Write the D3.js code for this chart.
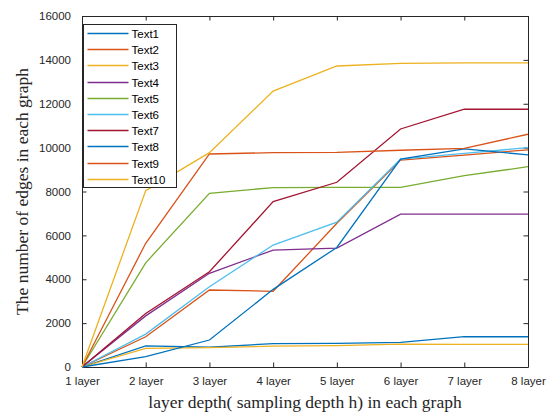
<!DOCTYPE html>
<html>
<head>
<meta charset="utf-8">
<script src="https://cdn.jsdelivr.net/npm/d3@7"></script>
<style>
  body { margin: 0; background: #fff; }
  svg { display: block; }
  .tick text { font-family: "Liberation Sans", Arial, sans-serif; font-size: 11.5px; fill: #262626; }
</style>
</head>
<body>
<div id="chart"></div>
<script>

// chart data

var layers = ["1 layer", "2 layer", "3 layer", "4 layer", "5 layer", "6 layer", "7 layer", "8 layer"];
var seriesNames = ["Text1", "Text2", "Text3", "Text4", "Text5", "Text6", "Text7", "Text8", "Text9", "Text10"];
var yTicks = [0, 2000, 4000, 6000, 8000, 10000, 12000, 14000, 16000];

var text1 = [0, 960, 900, 1070, 1080, 1120, 1380, 1380];
var text2 = [0, 1380, 3510, 3450, 6550, 9430, 9660, 9900];
var text3 = [0, 850, 880, 950, 970, 1040, 1030, 1030];
var text4 = [0, 2330, 4270, 5330, 5420, 6970, 6970, 6970];
var text5 = [0, 4750, 7920, 8180, 8190, 8190, 8720, 9130];
var text6 = [0, 1500, 3660, 5560, 6600, 9480, 9740, 10000];
var text7 = [0, 2440, 4340, 7540, 8420, 10850, 11750, 11750];
var text8 = [0, 470, 1230, 3540, 5450, 9480, 9940, 9670];
var text9 = [0, 5640, 9710, 9770, 9780, 9880, 9970, 10610];
var text10 = [0, 8040, 9770, 12580, 13720, 13840, 13860, 13860];

var seriesValues = [text1, text2, text3, text4, text5, text6, text7, text8, text9, text10];

// MATLAB default colour order, cycling after seven lines
var colors = ["#0072BD", "#D95319", "#EDB120", "#7E2F8E", "#77AC30", "#4DBEEE", "#A2142F"];

function seriesColor(i) {
  return colors[i % colors.length];
}

// layout

var svgWidth = 548;
var svgHeight = 412;
var margin = { top: 16, right: 20, bottom: 45, left: 82 };
var width = svgWidth - margin.left - margin.right;
var height = svgHeight - margin.top - margin.bottom;

var svg = d3.select("#chart")
  .append("svg")
  .attr("width", svgWidth)
  .attr("height", svgHeight);

var chartGroup = svg.append("g")
  .attr("transform", `translate(${margin.left}, ${margin.top})`);

// scales

var xScale = d3.scalePoint()
  .domain(layers)
  .range([0, width]);

var yScale = d3.scaleLinear()
  .domain([0, 16000])
  .range([height, 0]);

// axes, MATLAB style: ticks point inward on all four sides

var tickLen = 4.5;

chartGroup.append("g")
  .attr("transform", `translate(0, ${height})`)
  .call(d3.axisBottom(xScale).tickSizeInner(-tickLen).tickSizeOuter(0).tickPadding(10));

chartGroup.append("g")
  .call(d3.axisLeft(yScale).tickValues(yTicks).tickFormat(d3.format("d"))
    .tickSizeInner(-tickLen).tickSizeOuter(0).tickPadding(11));

chartGroup.append("g")
  .call(d3.axisTop(xScale).tickSizeInner(-tickLen).tickSizeOuter(0).tickFormat(""));

chartGroup.append("g")
  .attr("transform", `translate(${width}, 0)`)
  .call(d3.axisRight(yScale).tickValues(yTicks).tickSizeInner(-tickLen).tickSizeOuter(0).tickFormat(""));

chartGroup.selectAll(".domain").attr("stroke", "#262626");
chartGroup.selectAll(".tick line").attr("stroke", "#262626");

// lines

var line = d3.line()
  .x((d, i) => xScale(layers[i]))
  .y(d => yScale(d));

chartGroup.selectAll(".series")
  .data(seriesValues)
  .enter()
  .append("path")
  .attr("class", "series")
  .attr("fill", "none")
  .attr("stroke", (d, i) => seriesColor(i))
  .attr("stroke-width", 1.3)
  .attr("d", line);

// legend

var legend = svg.append("g")
  .attr("transform", "translate(83.5, 24.5)");

legend.append("rect")
  .attr("width", 93)
  .attr("height", 163)
  .attr("fill", "#fff")
  .attr("stroke", "#262626")
  .attr("stroke-width", 1);

var legendData = seriesNames.map((name, i) => ({ name: name, color: seriesColor(i), row: i }));

var legendItems = legend.selectAll(".legend-item")
  .data(legendData)
  .enter()
  .append("g")
  .attr("class", "legend-item")
  .attr("transform", d => `translate(0, ${Math.round(9 + d.row * 16.2)})`);

legendItems.append("line")
  .attr("x1", 4)
  .attr("x2", 45)
  .attr("y1", 0)
  .attr("y2", 0)
  .style("stroke", d => d.color)
  .attr("stroke-width", 1.3);

legendItems.append("text")
  .attr("x", 48)
  .attr("dy", "0.35em")
  .style("font-family", "'Liberation Sans', Arial, sans-serif")
  .style("font-size", "11.5px")
  .attr("fill", "#000")
  .text(d => d.name);

// axis titles

svg.append("text")
  .attr("x", margin.left + width / 2)
  .attr("y", 408)
  .attr("text-anchor", "middle")
  .style("font-family", "'Liberation Serif', 'Times New Roman', serif")
  .style("font-size", "17.5px")
  .attr("fill", "#262626")
  .text("layer depth( sampling depth h) in each graph");

svg.append("text")
  .attr("transform", `translate(28, ${margin.top + height / 2}) rotate(-90)`)
  .attr("text-anchor", "middle")
  .style("font-family", "'Liberation Serif', 'Times New Roman', serif")
  .style("font-size", "17.5px")
  .attr("fill", "#262626")
  .text("The number of edges in each graph");

</script>
</body>
</html>
